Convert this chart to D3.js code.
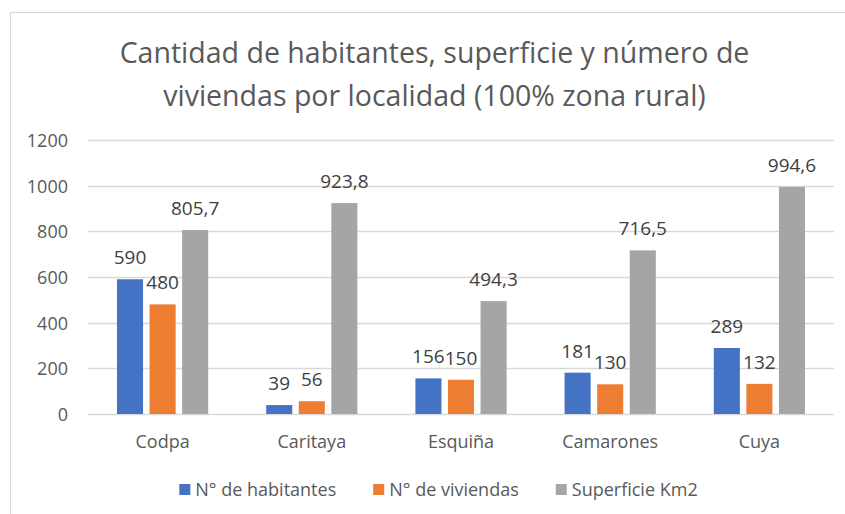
<!DOCTYPE html>
<html>
<head>
<meta charset="utf-8">
<script src="https://cdn.jsdelivr.net/npm/d3@7/dist/d3.min.js"></script>
<style>
  html, body { margin: 0; padding: 0; background: #fff; }
  svg { display: block; font-family: "Open Sans", "Noto Sans", sans-serif; }
</style>
</head>
<body>
<svg id="chart" width="845" height="514"></svg>
<script>
const titleLines = ["Cantidad de habitantes, superficie y número de", "viviendas por localidad (100% zona rural)"];
const categories = ["Codpa", "Caritaya", "Esquiña", "Camarones", "Cuya"];
const seriesNames = ["N° de habitantes", "N° de viviendas", "Superficie Km2"];
const habitantes = [590, 39, 156, 181, 289];
const viviendas = [480, 56, 150, 130, 132];
const superficie = [805.7, 923.8, 494.3, 716.5, 994.6];
const yTicks = [0, 200, 400, 600, 800, 1000, 1200];
const colors = ["#4472C4", "#ED7D31", "#A5A5A5"];

const seriesValues = [habitantes, viviendas, superficie];
const svg = d3.select("#chart");
const textColor = "#595959";

// chart border
svg.append("rect").attr("x", 10.5).attr("y", 12.5).attr("width", 900).attr("height", 600)
  .attr("fill", "#fff").attr("stroke", "#d9d9d9").attr("stroke-width", 1.2);

// title
const title = svg.append("g");
const t1 = title.append("text").attr("x", 434.5).attr("y", 63).attr("text-anchor", "middle")
  .attr("fill", textColor).attr("font-size", 28).text(titleLines[0]);
const w1 = t1.node().getComputedTextLength();
const tSize = 28 * 630 / w1;
t1.attr("font-size", tSize);
title.append("text").attr("x", 434.5).attr("y", 106).attr("text-anchor", "middle")
  .attr("fill", textColor).attr("font-size", tSize).text(titleLines[1]);

// scales
const x0 = d3.scaleBand().domain(categories).range([88, 834]).paddingInner(0).paddingOuter(0);
const x1 = d3.scaleBand().domain(seriesNames).range([29, x0.bandwidth() - 29]).paddingInner(0.2).paddingOuter(0);
const y = d3.scaleLinear().domain([0, 1200]).range([414, 140]);

// gridlines
svg.append("g").selectAll("line").data(yTicks).join("line")
  .attr("x1", 88).attr("x2", 834)
  .attr("y1", d => Math.round(y(d)) + 0.5).attr("y2", d => Math.round(y(d)) + 0.5)
  .attr("stroke", "#d9d9d9").attr("stroke-width", 1.3);

// y axis labels
const yAxis = svg.append("g").attr("transform", "translate(68,0)")
  .call(d3.axisLeft(y).tickValues(yTicks).tickSize(0).tickPadding(0).tickFormat(d3.format("d")));
yAxis.select(".domain").remove();
yAxis.selectAll("text").attr("fill", textColor).attr("font-size", 18)
  .attr("font-family", "'Open Sans', sans-serif").attr("dy", "0.36em");

// x axis labels
const xAxis = svg.append("g").attr("transform", "translate(0,432)")
  .call(d3.axisBottom(x0).tickSize(0).tickPadding(0));
xAxis.select(".domain").remove();
xAxis.selectAll("text").attr("fill", textColor).attr("font-size", 18)
  .attr("font-family", "'Open Sans', sans-serif").attr("dy", "0.9em");

// bars
const fmt = v => String(v).replace(".", ",");
const groups = svg.append("g").selectAll("g").data(categories).join("g")
  .attr("transform", d => `translate(${x0(d)},0)`);
groups.each(function(cat, ci) {
  const g = d3.select(this);
  seriesNames.forEach((s, si) => {
    const v = seriesValues[si][ci];
    g.append("rect").attr("x", x1(s)).attr("width", x1.bandwidth())
      .attr("y", y(v)).attr("height", y(0) - y(v)).attr("fill", colors[si]);
  });
  seriesNames.forEach((s, si) => {
    const v = seriesValues[si][ci];
    g.append("text").attr("x", x1(s) + x1.bandwidth() / 2).attr("y", y(v) - 15)
      .attr("text-anchor", "middle").attr("fill", "#404040").attr("font-size", 19)
      .text(fmt(v));
  });
});

// legend
const legend = svg.append("g");
let lx = 0;
seriesNames.forEach((s, i) => {
  const it = legend.append("g");
  it.append("rect").attr("x", 0).attr("y", 484).attr("width", 11).attr("height", 11).attr("fill", colors[i]);
  const tx = it.append("text").attr("x", 16).attr("y", 496).attr("fill", textColor).attr("font-size", 18).text(s);
  const w = 16 + tx.node().getComputedTextLength();
  it.attr("transform", `translate(${lx},0)`);
  lx += w + 37;
});
const total = lx - 37;
legend.attr("transform", `translate(${438.5 - total / 2},0)`);
</script>
</body>
</html>
